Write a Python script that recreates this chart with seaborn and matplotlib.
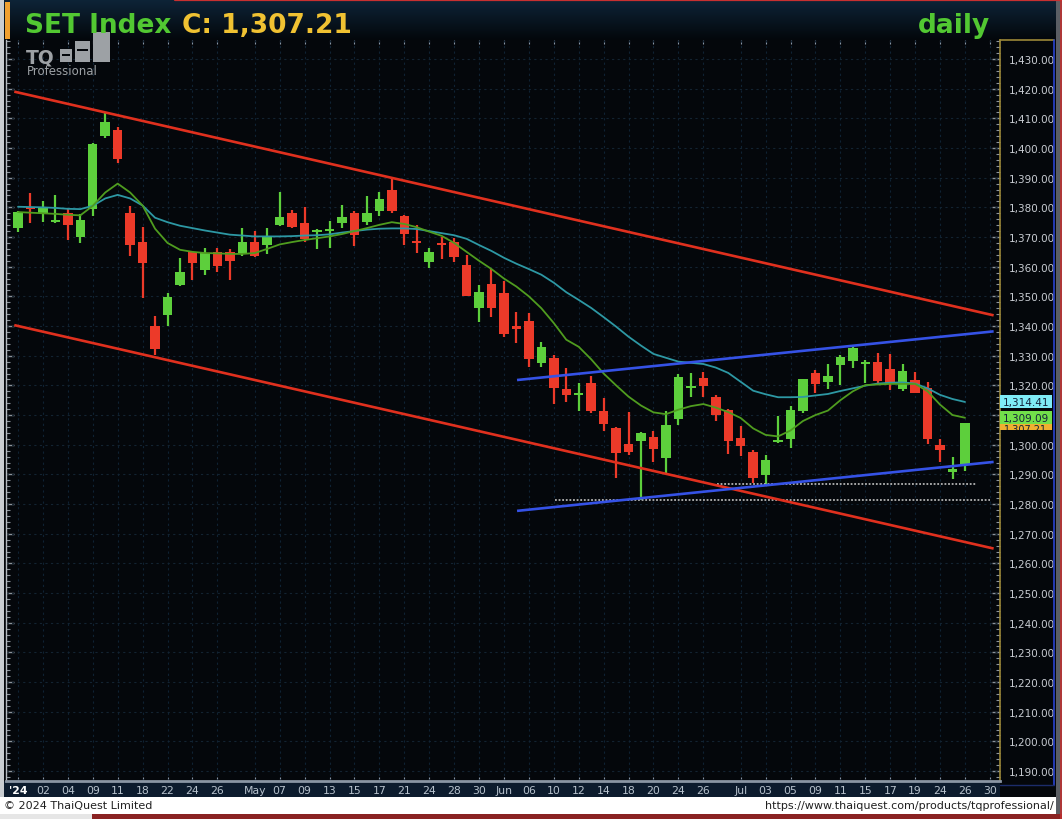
import numpy as np
import pandas as pd
import matplotlib
matplotlib.use("Agg")
import matplotlib.pyplot as plt
import seaborn as sns
from matplotlib.patches import Rectangle
from matplotlib.lines import Line2D
from matplotlib.colors import LinearSegmentedColormap
import matplotlib.transforms as mtransforms
from matplotlib.ticker import MultipleLocator, FuncFormatter

# ---------------- data ----------------
opens = [1373.0, 1380.2, 1378.0, 1375.2, 1378.0, 1370.1, 1379.4, 1404.2, 1406.2, 1378.1,
         1368.4, 1340.1, 1343.8, 1353.8, 1364.8, 1359.0, 1365.0, 1365.0, 1364.6, 1368.2,
         1367.4, 1374.2, 1378.0, 1374.6, 1371.9, 1372.3, 1374.7, 1378.0, 1375.2, 1378.9,
         1385.9, 1377.0, 1368.4, 1361.5, 1367.8, 1368.4, 1360.6, 1346.1, 1354.0, 1351.1,
         1339.7, 1341.8, 1327.6, 1329.1, 1318.8, 1316.8, 1320.7, 1311.5, 1305.5, 1300.2,
         1301.4, 1302.5, 1295.5, 1308.7, 1319.2, 1322.5, 1316.0, 1311.7, 1302.2, 1297.7,
         1289.9, 1301.0, 1302.0, 1311.3, 1324.1, 1321.0, 1326.7, 1328.1, 1327.3, 1328.0,
         1325.5, 1318.9, 1321.8, 1319.0, 1300.0, 1290.7, 1293.5]
highs = [1378.8, 1384.7, 1382.2, 1384.3, 1379.4, 1377.8, 1401.6, 1412.0, 1407.0, 1380.4,
         1373.3, 1343.5, 1351.1, 1362.8, 1365.0, 1366.2, 1366.2, 1366.0, 1373.0, 1372.1,
         1372.9, 1385.1, 1379.2, 1380.2, 1372.8, 1375.5, 1380.7, 1378.7, 1383.9, 1385.1,
         1389.8, 1377.4, 1374.2, 1366.2, 1369.9, 1369.6, 1364.1, 1353.8, 1359.2, 1355.3,
         1344.7, 1344.4, 1334.5, 1330.2, 1325.8, 1320.7, 1323.3, 1315.7, 1305.9, 1310.9,
         1304.2, 1304.5, 1311.2, 1323.8, 1324.1, 1324.6, 1316.8, 1312.0, 1306.2, 1298.2,
         1296.5, 1309.8, 1312.9, 1322.3, 1325.2, 1327.2, 1330.2, 1332.8, 1328.7, 1330.9,
         1330.6, 1327.2, 1324.6, 1321.2, 1301.9, 1296.0, 1307.3]
lows = [1371.6, 1374.7, 1375.0, 1374.7, 1369.1, 1368.0, 1377.2, 1403.3, 1394.9, 1363.5,
        1349.3, 1330.2, 1340.1, 1353.6, 1355.6, 1357.2, 1358.3, 1355.6, 1363.5, 1363.2,
        1364.3, 1373.8, 1372.9, 1368.2, 1366.0, 1366.3, 1373.0, 1367.1, 1374.1, 1377.2,
        1378.0, 1367.4, 1364.6, 1359.5, 1362.6, 1361.5, 1350.0, 1341.3, 1342.9, 1336.2,
        1334.2, 1326.1, 1326.1, 1313.7, 1314.5, 1311.2, 1310.6, 1304.7, 1288.8, 1296.5,
        1281.5, 1294.1, 1290.5, 1306.7, 1316.1, 1316.1, 1308.1, 1296.9, 1296.3, 1287.1,
        1286.6, 1300.6, 1298.8, 1310.8, 1317.4, 1318.8, 1320.1, 1325.9, 1320.8, 1320.8,
        1318.4, 1318.2, 1317.3, 1300.2, 1294.3, 1288.4, 1291.0]
closes = [1378.4, 1379.6, 1380.0, 1375.7, 1374.1, 1375.7, 1401.4, 1408.7, 1396.3, 1367.4,
          1361.2, 1332.2, 1349.7, 1358.1, 1361.2, 1364.6, 1360.3, 1362.0, 1368.2, 1363.7,
          1369.9, 1376.6, 1373.3, 1369.3, 1372.2, 1372.6, 1376.6, 1370.7, 1378.0, 1382.8,
          1378.9, 1371.0, 1368.0, 1364.8, 1367.4, 1363.2, 1350.2, 1351.6, 1346.1, 1337.3,
          1339.3, 1328.9, 1332.8, 1319.0, 1316.8, 1317.1, 1311.5, 1307.0, 1297.1, 1297.7,
          1304.0, 1298.6, 1306.6, 1322.9, 1319.6, 1319.7, 1310.0, 1301.4, 1299.7, 1288.8,
          1294.8, 1301.3, 1311.7, 1322.3, 1320.3, 1323.3, 1329.5, 1332.5, 1327.7, 1321.4,
          1320.5, 1325.0, 1317.4, 1302.0, 1298.3, 1291.8, 1307.21]
ma_fast = [1378.4, 1378.2, 1378.0, 1377.8, 1377.5, 1377.3, 1380.5, 1385.0, 1388.0, 1385.0,
           1380.6, 1372.8, 1368.0, 1365.7, 1365.0, 1364.6, 1364.5, 1364.3, 1364.3, 1364.6,
           1366.0, 1367.5, 1368.3, 1369.0, 1369.6, 1370.2, 1371.0, 1372.0, 1373.0, 1374.1,
           1375.0, 1374.4, 1373.3, 1371.8, 1370.4, 1368.0, 1365.0, 1362.0, 1359.2, 1356.0,
           1353.3, 1350.0, 1346.0, 1341.0, 1335.4, 1333.0, 1328.8, 1324.0, 1320.0, 1316.2,
           1313.2, 1310.9, 1310.3, 1311.8, 1313.0, 1313.7, 1312.5, 1311.0, 1309.0, 1305.5,
           1303.3, 1302.8, 1304.8, 1308.0, 1310.0, 1311.5, 1315.0, 1318.0, 1320.1, 1320.3,
           1320.5, 1320.5, 1320.5, 1318.0, 1313.5, 1310.0, 1309.09]
ma_slow = [1380.2, 1380.1, 1380.0, 1379.8, 1379.5, 1379.4, 1380.5, 1383.0, 1384.2, 1383.0,
           1380.6, 1376.5, 1375.0, 1373.8, 1373.0, 1372.2, 1371.5, 1370.8, 1370.5, 1370.2,
           1370.2, 1370.2, 1370.3, 1370.5, 1370.6, 1370.9, 1371.5, 1372.0, 1372.5, 1372.8,
           1372.9, 1372.9, 1372.7, 1372.0, 1371.3, 1370.6, 1369.4, 1367.3, 1365.3, 1363.0,
           1361.0, 1359.2, 1357.3, 1354.6, 1351.4, 1348.8, 1346.1, 1343.0, 1339.8, 1336.4,
           1333.4, 1330.6, 1329.3, 1328.0, 1327.6, 1327.2, 1326.0, 1324.2, 1321.2, 1318.2,
           1317.0, 1316.0, 1316.0, 1316.1, 1316.6, 1317.1, 1318.1, 1319.0, 1319.9, 1320.6,
           1320.9, 1321.0, 1320.6, 1319.0, 1316.8, 1315.4, 1314.41]

tick_idx = [0, 2, 4, 6, 8, 10, 12, 14, 16, 19, 21, 23, 25, 27, 29, 31, 33, 35, 37, 39,
            41, 43, 45, 47, 49, 51, 53, 55, 58, 60, 62, 64, 66, 68, 70, 72, 74, 76, 78]
tick_labels = ["'24", "02", "04", "09", "11", "18", "22", "24", "26", "May", "07", "09",
               "13", "15", "17", "21", "24", "28", "30", "Jun", "06", "10", "12", "14",
               "18", "20", "24", "26", "Jul", "03", "05", "09", "11", "15", "17", "19",
               "24", "26", "30"]
y_ticks = list(range(1190, 1431, 10))
hidden_y_label = 1310  # covered by the value tags in the reference

red_upper_x = [-0.3, 78.3]
red_upper_y = [1419.0, 1343.6]
red_lower_x = [-0.3, 78.3]
red_lower_y = [1340.3, 1265.0]
blue_upper_x = [40.05, 78.3]
blue_upper_y = [1321.8, 1338.2]
blue_lower_x = [40.05, 78.3]
blue_lower_y = [1277.7, 1294.2]
support_levels = [1281.5, 1286.6]
support_start = [43.1, 56.1]
support_end = [78.0, 77.0]

title_name = "SET Index"
title_close = "C: 1,307.21"
period = "daily"
last_close = 1307.21
last_fast = 1309.09
last_slow = 1314.41

# ---------------- style ----------------
W, H = 1062, 820
sns.set_style("dark")
plt.rcParams["font.family"] = ["DejaVu Sans"]

GREEN = "#5dcf3c"
RED = "#ec3a29"
BG = "#04070b"

fig = plt.figure(figsize=(W / 100, H / 100), dpi=100, facecolor=BG)


def fx(px):
    return px / W


def fy(py):
    return 1 - py / H


def frect(x0, y0, x1, y1, color, z=1, **kw):
    r = Rectangle((fx(x0), fy(y1)), (x1 - x0) / W, (y1 - y0) / H,
                  transform=fig.transFigure, facecolor=color, edgecolor="none",
                  zorder=z, **kw)
    fig.add_artist(r)
    return r


def fline(x0, y0, x1, y1, color, lw=1.0, z=5):
    fig.add_artist(Line2D([fx(x0), fx(x1)], [fy(y0), fy(y1)], color=color, lw=lw,
                          transform=fig.transFigure, zorder=z))


# header with gradient
hax = fig.add_axes([0, fy(41), 1, 41 / H])
grad = np.linspace(0, 1, 64).reshape(-1, 1)
hax.imshow(grad, cmap=LinearSegmentedColormap.from_list("hdr", ["#0e2438", "#03070b"]),
           aspect="auto", extent=[0, 1, 0, 1])
hax.set_axis_off()

# main price axes
ax = fig.add_axes([fx(6), fy(782), (1000 - 6) / W, (782 - 41) / H])
ax.set_facecolor(BG)

n = len(closes)
idx = np.arange(n)
o = np.array(opens)
c = np.array(closes)
h = np.array(highs)
l = np.array(lows)
up = c >= o
cols = np.where(up, GREEN, RED)

ax.vlines(idx, l, h, colors=cols, linewidth=1.6, zorder=3)
body_h = np.maximum(np.abs(c - o), 0.7)
body_bottom = (o + c) / 2 - body_h / 2
ax.bar(idx, body_h, bottom=body_bottom, width=0.76, color=cols, linewidth=0, zorder=4)

df = pd.DataFrame({"idx": idx, "fast": ma_fast, "slow": ma_slow})
sns.lineplot(data=df, x="idx", y="slow", color="#2d98a4", linewidth=1.3, ax=ax, zorder=5)
sns.lineplot(data=df, x="idx", y="fast", color="#4f9c1f", linewidth=1.3, ax=ax, zorder=5)

ax.plot(red_upper_x, red_upper_y, color="#e0301e", lw=1.9, zorder=6, solid_capstyle="butt")
ax.plot(red_lower_x, red_lower_y, color="#e0301e", lw=1.9, zorder=6, solid_capstyle="butt")
ax.plot(blue_upper_x, blue_upper_y, color="#3552e6", lw=1.9, zorder=6, solid_capstyle="butt")
ax.plot(blue_lower_x, blue_lower_y, color="#3552e6", lw=1.9, zorder=6, solid_capstyle="butt")
for lev, xs, xe in zip(support_levels, support_start, support_end):
    ax.hlines(lev, xs, xe, colors="#b4b4b4", linestyles=(0, (1, 1)), lw=1.3, zorder=5)

ax.set_xlabel("")
ax.set_ylabel("")
ax.set_xlim(-0.963, 78.81)
ax.set_ylim(1186.66, 1436.4)

ax.set_xticks(tick_idx)
ax.set_xticklabels(tick_labels)
ax.set_yticks(y_ticks)
ax.yaxis.set_major_formatter(
    FuncFormatter(lambda v, p: "" if abs(v - hidden_y_label) < 0.01 else f"{v:,.2f}"))
ax.yaxis.set_minor_locator(MultipleLocator(2))
ax.yaxis.tick_right()
ax.tick_params(axis="y", which="both", left=True, right=True, labelleft=False,
               labelright=True, direction="in", color="#8c949c")
ax.tick_params(axis="y", which="major", length=6, width=1, pad=6, labelsize=7.5,
               labelcolor="#c8ccd2")
ax.tick_params(axis="y", which="minor", length=3, width=0.8)
ax.tick_params(axis="x", which="major", bottom=True, top=True, direction="in", length=3,
               color="#8a96a4", pad=3, labelsize=7.8, labelcolor="#b7c2cd")
first = ax.get_xticklabels()[0]
first.set_color("white")
first.set_fontweight("bold")

ax.grid(False)
ax.vlines(tick_idx, 1186.66, 1436.4, colors="#0f2233", linestyles=(0, (2, 3)), lw=0.8, zorder=1)
ax.hlines(y_ticks, -0.963, 78.81, colors="#132331", linestyles=(0, (2, 3)), lw=0.8, zorder=1)

ax.spines["top"].set_visible(False)
ax.spines["left"].set_color("#b8bec4")
ax.spines["left"].set_linewidth(1.0)
ax.spines["bottom"].set_color("#8a96a4")
ax.spines["bottom"].set_linewidth(2.0)
ax.spines["right"].set_color("#9c8838")
ax.spines["right"].set_linewidth(1.2)

# value tags on the right axis
blend = mtransforms.blended_transform_factory(ax.transAxes, ax.transData)
tag_w = 52 / 994
tag_h = 13 / 2.967
for val, fc, z in [(last_close, "#f0b030", 10), (last_fast, "#72e04a", 11), (last_slow, "#7fecf6", 12)]:
    ax.add_patch(Rectangle((1.0, val - tag_h / 2), tag_w, tag_h, transform=blend,
                           facecolor=fc, edgecolor="none", clip_on=False, zorder=z))
    if val == last_close:
        # mostly hidden behind the green tag: only its lower strip shows
        vis_top = last_fast - tag_h / 2
        vis_bot = last_close - tag_h / 2
        t = ax.text(1.0 + tag_w / 2, vis_bot + 0.2, f"{val:,.2f}", transform=blend,
                    ha="center", va="center", fontsize=7.0, color="#14223a", zorder=z)
        t.set_clip_on(True)
        t.set_clip_path(Rectangle((1.0, vis_bot), tag_w, vis_top - vis_bot, transform=blend))
    else:
        ax.text(1.0 + tag_w / 2, val, f"{val:,.2f}", transform=blend, ha="center",
                va="center", fontsize=7.5, color="#14223a", zorder=z, clip_on=False)

# figure-level frame pieces
frect(4, 782, 1000, 798, "#0c1b2d", z=-1)
frect(0, 0, 4, 800, "#c9cdd1", z=2)
frect(5, 3, 10, 40, "#f0a030", z=3)
fline(1000, 41, 1054, 41, "#9c8838", lw=1.2)
fline(1054, 41, 1054, 786, "#2a44d0", lw=1.2)
fline(1000, 786, 1054, 786, "#1c2c6a", lw=1.0)
frect(1056, 0, 1062, 820, "#5a5e64", z=2)
fline(1061, 0, 1061, 820, "#c03030", lw=1.2)
frect(0, 798, 1056, 815, "white", z=2)
frect(0, 815, 1056, 820, "#e6e6e6", z=2)
frect(92, 815, 1062, 820, "#8a2222", z=3)
fline(175, 0.8, 1062, 0.8, "#c83030", lw=1.6)

fig.text(fx(4), fy(806.5), "\u00a9 2024 ThaiQuest Limited", fontsize=8, color="#202020",
         ha="left", va="center", zorder=4)
fig.text(fx(1054), fy(806.5), "https://www.thaiquest.com/products/tqprofessional/",
         fontsize=8, color="#202020", ha="right", va="center", zorder=4)

# title
fig.text(fx(25), fy(33), title_name, fontsize=19, fontweight="bold", color="#52c832",
         ha="left", va="baseline", zorder=4)
fig.text(fx(352), fy(33), title_close, fontsize=19, fontweight="bold", color="#f0c232",
         ha="right", va="baseline", zorder=4)
fig.text(fx(990), fy(33), period, fontsize=19, fontweight="bold", color="#52c832",
         ha="right", va="baseline", zorder=4)

# TQ Professional logo
logo = "#9da1a5"
fig.text(fx(26), fy(63), "TQ", fontsize=13.5, fontweight="bold", color=logo,
         ha="left", va="baseline", zorder=4)
frect(60, 50, 72, 63, logo, z=4)
frect(75, 42, 90, 63, logo, z=4)
frect(93, 33, 110, 63, logo, z=4)
frect(62, 55, 70, 57, BG, z=5)
frect(77, 50, 88, 52, BG, z=5)
fig.text(fx(27), fy(75), "Professional", fontsize=8.5, color=logo, ha="left",
         va="baseline", zorder=4)

fig.savefig("out.png", dpi=100, facecolor=BG)
